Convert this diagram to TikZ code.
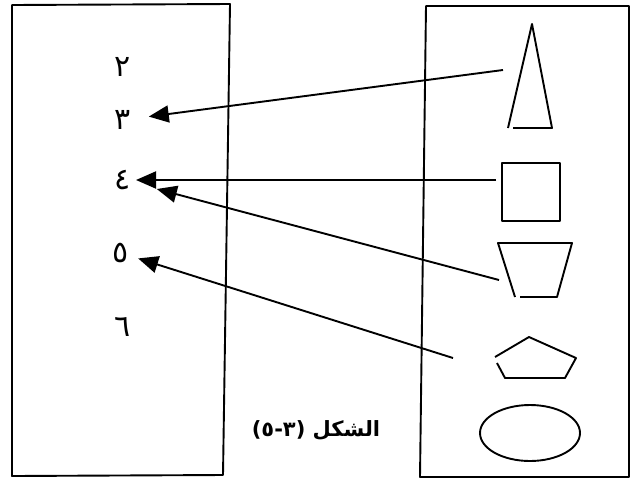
\documentclass[tikz,border=0pt]{standalone}
\usepackage{fontspec}
\newfontfamily\arabicfont[Script=Arabic]{DejaVu Sans}
\newfontfamily\plainfont{DejaVu Sans}
\TeXXeTstate=1
\usetikzlibrary{arrows.meta}

\begin{document}
\begin{tikzpicture}[
  x=1pt, y=-1pt,
  frame/.style={line width=1.9pt, line join=round},
  outline/.style={line width=1.9pt, line join=round},
  num/.style={font=\arabicfont\fontsize{30}{34}\selectfont, inner sep=1pt},
  caption/.style={font=\arabicfont\bfseries\fontsize{21}{25}\selectfont, inner sep=1pt},
  arrow/.style={-{Triangle[length=20pt, width=17pt]}, line width=1.9pt}
]
\useasboundingbox (0,0) rectangle (631,480);

% the two boxes
\draw[frame] (12,5) -- (230,4) -- (223,475) -- (12,476) -- cycle;
\draw[frame] (426,6) -- (629,6) -- (629,477) -- (420,477) -- cycle;

% numbers
\node[num] (n2) at (123,67) {٢};
\node[num] (n3) at (123,120) {٣};
\node[num] (n4) at (123,180) {٤};
\node[num] (n5) at (121,253) {٥};
\node[num] (n6) at (123,327) {٦};

\node[caption] (cap) at (316,430) {\beginR الشكل {\plainfont)}٣{\plainfont-}٥{\plainfont(}\endR};

% shapes
\draw[outline] (508,128) -- (532,24) -- (552,128) -- (513,128);
\draw[outline] (502,163) rectangle (560,221);
\draw[outline] (515,297) -- (498,243) -- (572,243) -- (557,297) -- (520,297);
\draw[outline] (495,357) -- (529,337) -- (576,358) -- (565,378) -- (505,378) -- (497,363);
\draw[outline] (530,433) ellipse [x radius=50, y radius=28];

% arrows
\coordinate (s3) at (503,70);
\coordinate (s4a) at (496,180);
\coordinate (s4b) at (499,280);
\coordinate (s5) at (453,358);

\draw[arrow, shorten >=26pt] (s3) -- (n3.center);
\draw[arrow, shorten >=13pt] (s4a) -- (n4.center);
\draw[arrow, shorten >=35pt] (s4b) -- (n4.center);
\draw[arrow, shorten >=18pt] (s5) -- (n5.center);
\end{tikzpicture}
\end{document}
